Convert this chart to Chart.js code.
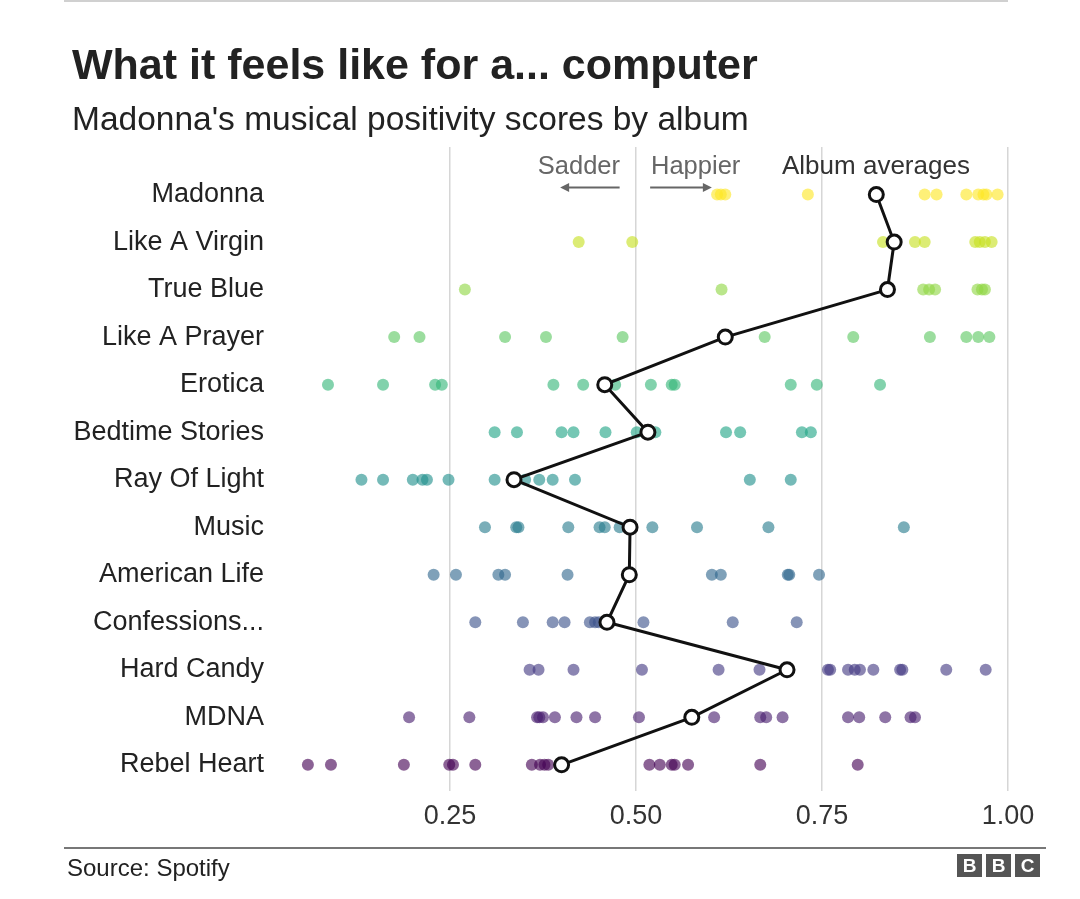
<!DOCTYPE html>
<html>
<head>
<meta charset="utf-8">
<script src="https://cdn.jsdelivr.net/npm/chart.js@4/dist/chart.umd.min.js"></script>
<style>
    body { margin: 0; background: #fff; font-family: "Liberation Sans", Arial, sans-serif; }
    #wrap { position: relative; width: 1080px; height: 899px; overflow: hidden; }
    #chartBox { position: absolute; left: 0; top: 0; width: 1080px; height: 899px; }
    .txt { position: absolute; white-space: nowrap; line-height: 1; }
    .rule-top { position: absolute; left: 64px; top: 0; width: 944px; height: 2px; background: #d0d0d0; }
    .rule-foot { position: absolute; left: 64px; top: 847px; width: 982px; height: 2px; background: #777; }
    .bbc { position: absolute; top: 854px; left: 957px; display: flex; gap: 4px; }
    .bbc span { width: 25px; height: 23px; background: #555; color: #fff; font: bold 19px "Liberation Sans", Arial, sans-serif; text-align: center; line-height: 23px; }
</style>
</head>
<body>
<div id="wrap">
    <div class="rule-top"></div>
    <div id="chartBox"><canvas id="scoreChart"></canvas></div>
    <div class="txt" style="left:72px; top:43px; font-size:43px; font-weight:bold; color:#222;">What it feels like for a... computer</div>
    <div class="txt" style="left:72px; top:102px; font-size:33.5px; color:#222;">Madonna's musical positivity scores by album</div>
    <div class="txt" style="right:460px; top:153px; font-size:25.5px; color:#666;">Sadder</div>
    <div class="txt" style="left:651px; top:153px; font-size:25.5px; color:#666;">Happier</div>
    <div class="txt" style="left:782px; top:152px; font-size:26px; color:#333;">Album averages</div>
    <div class="rule-foot"></div>
    <div class="txt" style="left:67px; top:856px; font-size:24px; color:#222;">Source: Spotify</div>
    <div class="bbc"><span>B</span><span>B</span><span>C</span></div>
</div>

<script>
// Albums, top to bottom
const albums = ['Madonna', 'Like A Virgin', 'True Blue', 'Like A Prayer', 'Erotica', 'Bedtime Stories',
    'Ray Of Light', 'Music', 'American Life', 'Confessions...', 'Hard Candy', 'MDNA', 'Rebel Heart'];

// Track positivity scores per album
const madonnaScores = [0.609, 0.614, 0.620, 0.731, 0.888, 0.904, 0.944, 0.960, 0.967, 0.971, 0.986];
const likeAVirginScores = [0.423, 0.495, 0.832, 0.875, 0.888, 0.956, 0.962, 0.969, 0.978];
const trueBlueScores = [0.270, 0.615, 0.886, 0.894, 0.902, 0.959, 0.965, 0.969];
const likeAPrayerScores = [0.175, 0.209, 0.324, 0.379, 0.482, 0.673, 0.792, 0.895, 0.944, 0.960, 0.975];
const eroticaScores = [0.086, 0.160, 0.230, 0.239, 0.389, 0.429, 0.472, 0.520, 0.548, 0.552, 0.708, 0.743, 0.828];
const bedtimeStoriesScores = [0.310, 0.340, 0.400, 0.416, 0.459, 0.501, 0.526, 0.621, 0.640, 0.723, 0.735];
const rayOfLightScores = [0.131, 0.160, 0.200, 0.213, 0.219, 0.248, 0.310, 0.351, 0.370, 0.388, 0.418, 0.653, 0.708];
const musicScores = [0.297, 0.339, 0.342, 0.409, 0.451, 0.458, 0.478, 0.522, 0.582, 0.678, 0.860];
const americanLifeScores = [0.228, 0.258, 0.315, 0.324, 0.408, 0.602, 0.614, 0.704, 0.706, 0.746];
const confessionsScores = [0.284, 0.348, 0.388, 0.404, 0.438, 0.445, 0.450, 0.510, 0.630, 0.716];
const hardCandyScores = [0.357, 0.369, 0.416, 0.508, 0.611, 0.666, 0.758, 0.761, 0.785, 0.794, 0.801, 0.819, 0.855, 0.858, 0.917, 0.970];
const mdnaScores = [0.195, 0.276, 0.367, 0.370, 0.375, 0.391, 0.420, 0.445, 0.504, 0.605, 0.667, 0.675, 0.697, 0.785, 0.800, 0.835, 0.869, 0.875];
const rebelHeartScores = [0.059, 0.090, 0.188, 0.249, 0.254, 0.284, 0.360, 0.371, 0.377, 0.382, 0.518, 0.532, 0.548, 0.552, 0.570, 0.667, 0.798];

const albumScores = [madonnaScores, likeAVirginScores, trueBlueScores, likeAPrayerScores, eroticaScores,
    bedtimeStoriesScores, rayOfLightScores, musicScores, americanLifeScores, confessionsScores,
    hardCandyScores, mdnaScores, rebelHeartScores];

// Album averages (open circles)
const albumAverages = [0.823, 0.847, 0.838, 0.620, 0.458, 0.516, 0.336, 0.492, 0.491, 0.461, 0.703, 0.575, 0.400];

// X axis ticks
const tickValues = [0.25, 0.50, 0.75, 1.00];

// viridis, yellow at the top to purple at the bottom
const albumColors = ['253,231,37', '199,224,32', '143,215,68', '93,200,99', '53,183,121', '32,164,134',
    '33,144,140', '40,124,142', '49,104,142', '59,82,139', '68,58,131', '72,31,112', '68,1,84'];

const dotSets = albumScores.map((scores, i) => ({
    data: scores.map(v => ({ x: v, y: i })),
    backgroundColor: `rgba(${albumColors[i]},0.62)`,
    borderWidth: 0,
    pointRadius: 6,
    order: 2
}));

const averageSet = {
    data: albumAverages.map((v, i) => ({ x: v, y: i })),
    showLine: true,
    borderColor: '#111',
    borderWidth: 3,
    pointRadius: 7,
    pointBackgroundColor: '#fff',
    pointBorderColor: '#111',
    pointBorderWidth: 3,
    order: 1
};

// Sadder / Happier arrows
const arrowPlugin = {
    id: 'arrows',
    afterDraw(chart) {
        const ctx = chart.ctx;
        const xs = chart.scales.x;
        const y = chart.scales.y.getPixelForValue(-0.15);
        const drawArrow = (from, to) => {
            const x1 = xs.getPixelForValue(from), x2 = xs.getPixelForValue(to);
            const dir = Math.sign(x2 - x1);
            ctx.save();
            ctx.strokeStyle = '#666';
            ctx.fillStyle = '#666';
            ctx.lineWidth = 2;
            ctx.beginPath();
            ctx.moveTo(x1, y);
            ctx.lineTo(x2 - dir * 6, y);
            ctx.stroke();
            ctx.beginPath();
            ctx.moveTo(x2, y);
            ctx.lineTo(x2 - dir * 9, y - 4.5);
            ctx.lineTo(x2 - dir * 9, y + 4.5);
            ctx.closePath();
            ctx.fill();
            ctx.restore();
        };
        drawArrow(0.478, 0.398);
        drawArrow(0.519, 0.602);
    }
};

const ctx = document.getElementById('scoreChart').getContext('2d');
new Chart(ctx, {
    type: 'scatter',
    data: { datasets: [averageSet, ...dotSets] },
    options: {
        responsive: true,
        maintainAspectRatio: false,
        animation: false,
        layout: { padding: { left: 0, right: 72, top: 147, bottom: 58 } },
        plugins: { legend: { display: false }, tooltip: { enabled: false } },
        scales: {
            x: {
                type: 'linear',
                min: 0,
                max: 1,
                afterBuildTicks: (scale) => { scale.ticks = tickValues.map(v => ({ value: v })); },
                afterFit: (scale) => { scale.height = 50; },
                grid: { color: '#d6d6d6', lineWidth: 1.5, drawTicks: false },
                border: { display: false },
                ticks: {
                    padding: 9,
                    color: '#333',
                    font: { family: '"Liberation Sans", Arial, sans-serif', size: 27 },
                    callback: (v) => Number(v).toFixed(2)
                }
            },
            y: {
                type: 'linear',
                reverse: true,
                min: -1,
                max: 12.55,
                afterBuildTicks: (scale) => { scale.ticks = albums.map((_, i) => ({ value: i })); },
                afterFit: (scale) => { scale.width = 264; },
                grid: { display: false, drawTicks: false, tickLength: 0 },
                border: { display: false },
                ticks: {
                    padding: 0,
                    color: '#222',
                    font: { family: '"Liberation Sans", Arial, sans-serif', size: 27 },
                    callback: (v) => albums[v]
                }
            }
        }
    },
    plugins: [arrowPlugin]
});
</script>
</body>
</html>
